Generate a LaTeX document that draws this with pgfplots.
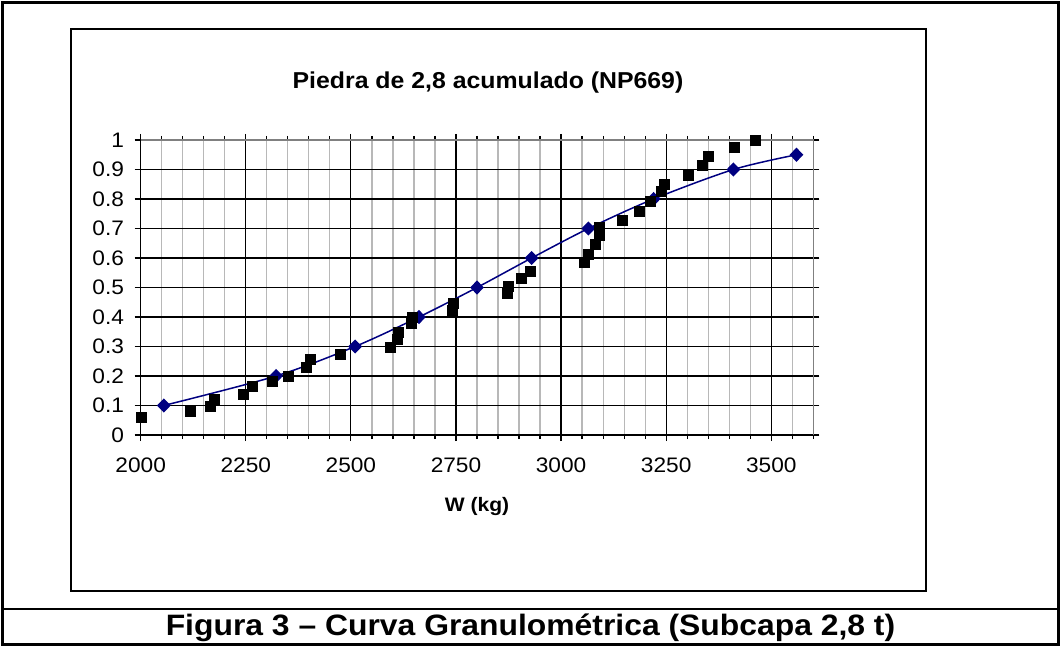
\documentclass[border=0pt]{standalone}
\usepackage{fontspec}
\setmainfont[FakeStretch=1.08]{Liberation Sans}
\usepackage{pgfplots}
\pgfplotsset{compat=1.18}
\definecolor{serie}{HTML}{000080}
\definecolor{minorgrid}{HTML}{B8B8B8}
\definecolor{plotborder}{HTML}{808080}

% medido: Piedra de 2,8 acumulado
\pgfplotstableread{
w      f
2000   0.062
2117   0.082
2166   0.099
2174   0.121
2245   0.139
2265   0.164
2313   0.184
2352   0.201
2393   0.229
2403   0.257
2474   0.274
2594   0.299
2610   0.324
2613   0.349
2643   0.379
2645   0.399
2742   0.424
2744   0.448
2873   0.480
2875   0.503
2905   0.531
2927   0.554
3056   0.587
3065   0.612
3082   0.647
3091   0.678
3091   0.704
3145   0.729
3185   0.760
3213   0.791
3237   0.825
3245   0.850
3303   0.881
3335   0.913
3351   0.946
3413   0.977
3462   1.000
}\medido

% curva NP669
\pgfplotstableread{
w      f
2055   0.10
2322   0.20
2510   0.30
2662   0.40
2800   0.50
2930   0.60
3065   0.70
3220   0.80
3410   0.90
3560   0.95
}\norma

\begin{document}
\begin{tikzpicture}
\begin{axis}[
  at={(140.7pt,-435pt)}, anchor=south west,
  scale only axis,
  width=672.6pt, height=295pt,
  xmin=2000, xmax=3600, ymin=0, ymax=1,
  xtick={2000,2250,...,3500},
  minor xtick={2050,2100,...,3600},
  ytick={0,0.1,...,1.0},
  yticklabels={0,0.1,0.2,0.3,0.4,0.5,0.6,0.7,0.8,0.9,1},
  xmajorgrids, ymajorgrids, xminorgrids,
  major grid style={black, line width=1.2pt},
  minor grid style={minorgrid, line width=1.2pt},
  axis line style={black, line width=1.3pt},
  tick align=outside,
  major tick length=6pt, minor tick length=4pt,
  tick style={black, line width=1.2pt},
  every minor tick/.style={black, line width=1.2pt},
  tick label style={font=\fontsize{21}{23}\selectfont},
  xticklabel style={anchor=center, yshift=-24.5pt},
  yticklabel style={anchor=east, inner sep=0pt, xshift=-10.5pt},
  /pgf/number format/assume math mode=true,
  /pgf/number format/.cd, 1000 sep={},
  /pgfplots/.cd,
  clip=false,
]
\addplot[serie, line width=1.5pt, smooth, mark=diamond*,
  mark size=6pt, mark options={xscale=1.3, fill=serie, draw=serie}]
  table[x=w, y=f] {\norma};
\addplot[only marks, mark=square*, mark size=5pt,
  mark options={fill=black, draw=black}]
  table[x=w, y=f] {\medido};
\draw[plotborder, line width=1.3pt] (axis cs:2000,1) -- (axis cs:3600,1) -- (axis cs:3600,0);
\end{axis}

\node[font=\bfseries\fontsize{23}{26}\selectfont] at (488pt,-83pt) {Piedra de 2,8 acumulado (NP669)};
\node[font=\bfseries\fontsize{19.5}{21}\selectfont] at (477pt,-506pt) {W (kg)};

\draw[black, line width=2pt] (70.7pt,-29.3pt) rectangle (925.7pt,-590.7pt);
\draw[black, line width=2.5pt] (2.5pt,-2.5pt) rectangle (1058.5pt,-644.5pt);
\draw[black, line width=2.5pt] (2.5pt,-609pt) -- (1058.5pt,-609pt);
\node[font=\bfseries\fontsize{29.5}{32}\selectfont] at (530.5pt,-628pt) {Figura 3 – Curva Granulométrica (Subcapa 2,8 t)};

\pgfresetboundingbox
\path[use as bounding box] (0pt,0pt) rectangle (1061pt,-647pt);
\end{tikzpicture}
\end{document}
